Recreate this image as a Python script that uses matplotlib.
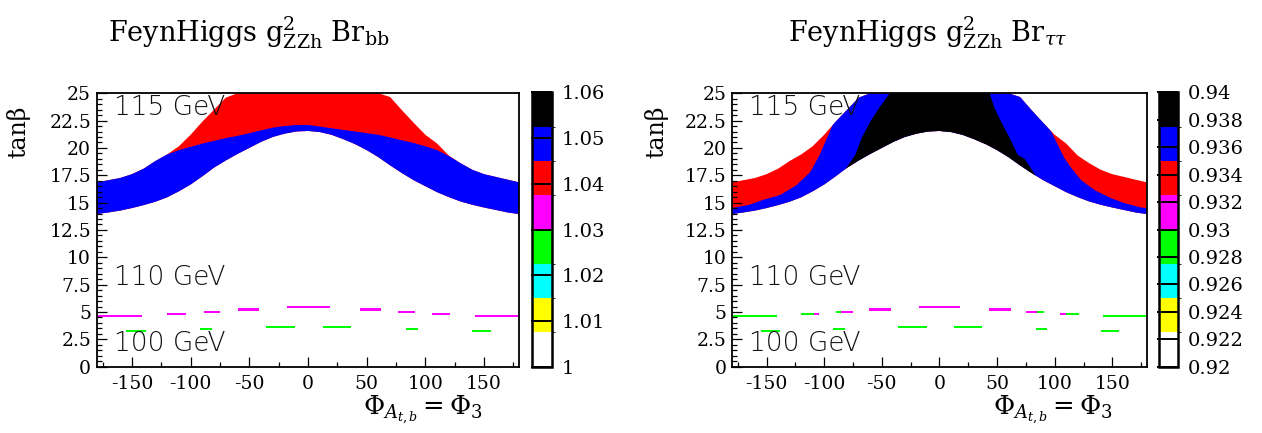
import matplotlib.pyplot as plt
import numpy as np
from matplotlib.colors import ListedColormap, BoundaryNorm
from matplotlib.cm import ScalarMappable
from matplotlib.ticker import MultipleLocator, FormatStrFormatter

plt.rcParams['font.family'] = 'DejaVu Serif'
plt.rcParams['mathtext.fontset'] = 'dejavuserif'
plt.rcParams['axes.unicode_minus'] = False

# --- data (phi in degrees, tan(beta)) ---
phi = list(range(-180, 181, 10))
band_lo = [13.95, 14.1, 14.27, 14.5, 14.77, 15.08, 15.48, 16.03, 16.65, 17.4,
           18.2, 18.85, 19.45, 20.0, 20.55, 21.0, 21.3, 21.5, 21.55,
           21.45, 21.2, 20.8, 20.35, 19.8, 19.15, 18.4, 17.7, 17.05,
           16.5, 15.95, 15.5, 15.1, 14.8, 14.55, 14.33, 14.1, 13.95]
band_hi = [16.85, 17.05, 17.25, 17.6, 18.1, 18.8, 19.4, 20.15, 21.2, 22.4,
           23.5, 24.6, 25, 25, 25, 25, 25, 25, 25,
           25, 25, 25, 25, 25, 25, 24.65, 23.45, 22.3,
           21.2, 20.4, 19.3, 18.6, 18.0, 17.6, 17.35, 17.1, 16.85]
# upper edge of the blue part in the bb plot
bb_blue_top = [16.85, 17.05, 17.25, 17.6, 18.1, 18.8, 19.4, 19.8, 20.1, 20.4,
               20.65, 20.9, 21.1, 21.35, 21.6, 21.85, 22.0, 22.1, 22.1,
               21.95, 21.8, 21.65, 21.5, 21.35, 21.2, 20.95, 20.7, 20.45,
               20.15, 19.8, 19.25, 18.6, 18.0, 17.6, 17.35, 17.1, 16.85]

# tau tau plot: red/blue border (left and right) and blue/black border
tt_red_l_phi = [-180, -165, -153, -138, -124, -112, -104, -95, -93]
tt_red_l_tb = [14.5, 14.8, 15.25, 15.7, 16.6, 17.8, 19.35, 21.5, 22.0]
tt_red_r_phi = [94, 97, 108.5, 114.5, 123, 134.5, 149, 160.5, 175, 180]
tt_red_r_tb = [21.9, 21.5, 19.05, 18.15, 17.05, 16.15, 15.4, 14.95, 14.55, 14.5]
tt_blk_l_phi = [-85, -80, -73, -67.5, -60, -52, -43]
tt_blk_l_tb = [17.6, 18.3, 19.35, 20.9, 22.4, 23.7, 25.0]
tt_blk_r_phi = [43.5, 48, 53.5, 61, 68, 74, 84]
tt_blk_r_tb = [25.0, 23.6, 22.4, 20.9, 19.35, 19.0, 17.4]

# small cells near 110 GeV (upper row) and 100 GeV (lower row)
row1_x0 = [-180, -120, -89, -60, -18, 44, 77, 106, 142.5]
row1_x1 = [-141, -104, -75, -42, 19, 62, 91, 121, 180]
row1_lo = [4.57, 4.72, 4.90, 5.11, 5.39, 5.11, 4.90, 4.72, 4.57]
row1_hi = [4.75, 4.90, 5.08, 5.39, 5.57, 5.39, 5.08, 4.90, 4.75]
row2_x0 = [-155, -92, -36, 13, 83.5, 140]
row2_x1 = [-138, -81.5, -11, 37, 93.5, 156]
row2_lo = [3.20, 3.38, 3.56, 3.56, 3.38, 3.20]
row2_hi = [3.38, 3.56, 3.74, 3.74, 3.56, 3.38]
# same upper row in the tau tau plot, split by colour
tt_row1_x0 = [-180, -120, -109, -90, -85, -61, -18, 43, 75.5, 85, 104.5, 109.5, 142]
tt_row1_x1 = [-141, -109, -104.5, -85, -75, -42, 18, 62, 85, 90.5, 109.5, 121, 180]
tt_row1_lo = [4.57, 4.72, 4.72, 4.90, 4.90, 5.11, 5.39, 5.11, 4.90, 4.90, 4.72, 4.72, 4.57]
tt_row1_hi = [4.75, 4.90, 4.90, 5.08, 5.08, 5.39, 5.57, 5.39, 5.08, 5.08, 4.90, 4.90, 4.75]
tt_row1_col = ['lime', 'lime', 'magenta', 'lime', 'magenta', 'magenta', 'magenta',
               'magenta', 'magenta', 'lime', 'magenta', 'lime', 'lime']

mass_labels = ['115 GeV', '110 GeV', '100 GeV']
mass_tb = [23.0, 7.45, 1.45]

palette = ['white', '#ffff00', '#00ffff', '#00ff00', '#ff00ff', '#ff0000', '#0000ff', 'black']
bb_levels = [1.0, 1.0075, 1.015, 1.0225, 1.03, 1.0375, 1.045, 1.0525, 1.06]
bb_ticks = [1.0, 1.01, 1.02, 1.03, 1.04, 1.05, 1.06]
tt_levels = [0.92, 0.9225, 0.925, 0.9275, 0.93, 0.9325, 0.935, 0.9375, 0.94]
tt_ticks = [0.92, 0.922, 0.924, 0.926, 0.928, 0.93, 0.932, 0.934, 0.936, 0.938, 0.94]

TB_MAX = 25

fig = plt.figure(figsize=(12.62, 4.33), dpi=100)
ax1 = fig.add_axes([0.0766, 0.1531, 0.3349, 0.6316])
cax1 = fig.add_axes([0.4213, 0.1531, 0.01632, 0.6337])
ax2 = fig.add_axes([0.5800, 0.1531, 0.3288, 0.6316])
cax2 = fig.add_axes([0.9181, 0.1531, 0.0155, 0.6337])


def style_axes(ax):
    ax.set_xlim(-180, 180)
    ax.set_ylim(0, TB_MAX)
    ax.xaxis.set_major_locator(MultipleLocator(50))
    ax.xaxis.set_minor_locator(MultipleLocator(25))
    ax.yaxis.set_major_locator(MultipleLocator(2.5))
    ax.yaxis.set_minor_locator(MultipleLocator(0.5))
    ax.xaxis.set_major_formatter(FormatStrFormatter('%g'))
    ax.yaxis.set_major_formatter(FormatStrFormatter('%g'))
    ax.tick_params(which='both', direction='in', top=False, right=False, width=0.9)
    ax.tick_params(which='major', length=7, labelsize=13.5)
    ax.tick_params(axis='x', which='major', pad=6)
    ax.tick_params(axis='y', which='major', pad=4)
    ax.tick_params(which='minor', length=3.5)
    for s in ax.spines.values():
        s.set_linewidth(1.3)
    for lab, tb in zip(mass_labels, mass_tb):
        ax.text(-165, tb, lab, family='DejaVu Sans', weight='light', fontsize=19,
                color='#111111', va='baseline', zorder=10)


def cells(ax, x0, x1, lo, hi, col):
    x0, x1, lo, hi = map(np.asarray, (x0, x1, lo, hi))
    ax.bar(x0, hi - lo, width=x1 - x0, bottom=lo, align='edge', color=col, lw=0)


def colorbar(cax, levels, ticks):
    cmap = ListedColormap(palette)
    norm = BoundaryNorm(levels, cmap.N)
    cb = fig.colorbar(ScalarMappable(norm=norm, cmap=cmap), cax=cax, ticks=ticks)
    cb.ax.set_yticklabels([f'{t:g}' for t in ticks])
    cb.ax.tick_params(direction='in', length=15, width=1.4, pad=7, labelsize=14)
    cb.outline.set_linewidth(1.8)


band_x = phi + phi[::-1]

# left: g2 Br(bb)
band = ax1.fill(band_x, band_lo + band_hi[::-1], color='#ff0000', lw=0)[0]
ax1.fill(band_x, band_lo + bb_blue_top[::-1], color='#0000ff', lw=0)
cells(ax1, row1_x0, row1_x1, row1_lo, row1_hi, 'magenta')
cells(ax1, row2_x0, row2_x1, row2_lo, row2_hi, 'lime')
style_axes(ax1)
colorbar(cax1, bb_levels, bb_ticks)

# right: g2 Br(tau tau)
band2 = ax2.fill(band_x, band_lo + band_hi[::-1], color='#ff0000', lw=0)[0]
blue = ax2.fill(tt_red_l_phi + [tt_red_l_phi[-1], tt_red_r_phi[0]] + tt_red_r_phi + [180, -180],
                tt_red_l_tb + [TB_MAX, TB_MAX] + tt_red_r_tb + [0, 0],
                color='#0000ff', lw=0)[0]
blue.set_clip_path(band2)
black = ax2.fill(tt_blk_l_phi + tt_blk_r_phi + [tt_blk_r_phi[-1], tt_blk_l_phi[0]],
                 tt_blk_l_tb + tt_blk_r_tb + [0, 0], color='black', lw=0)[0]
black.set_clip_path(band2)
cells(ax2, tt_row1_x0, tt_row1_x1, tt_row1_lo, tt_row1_hi, tt_row1_col)
cells(ax2, row2_x0, row2_x1, row2_lo, row2_hi, 'lime')
style_axes(ax2)
colorbar(cax2, tt_levels, tt_ticks)

# titles and axis labels
fig.text(0.197, 0.9037, r'FeynHiggs g$^2_{\rm ZZh}$ Br$_{\rm bb}$', ha='center',
         va='baseline', fontsize=19.5)
fig.text(0.735, 0.9037, r'FeynHiggs g$^2_{\rm ZZh}$ Br$_{\tau\tau}$', ha='center',
         va='baseline', fontsize=19.5)
for xc in (18.3 / 1262, 656 / 1262):
    fig.text(xc, 1 - 131.7 / 433, 'tanβ', rotation=90, ha='center', va='center',
             fontsize=17)
for xr in (483 / 1262, 1113 / 1262):
    fig.text(xr, 1 - 415 / 433, r'$\Phi_{A_{t,b}} = \Phi_3$', ha='right',
             va='baseline', fontsize=18.5)

fig.savefig('out.png', dpi=100)
